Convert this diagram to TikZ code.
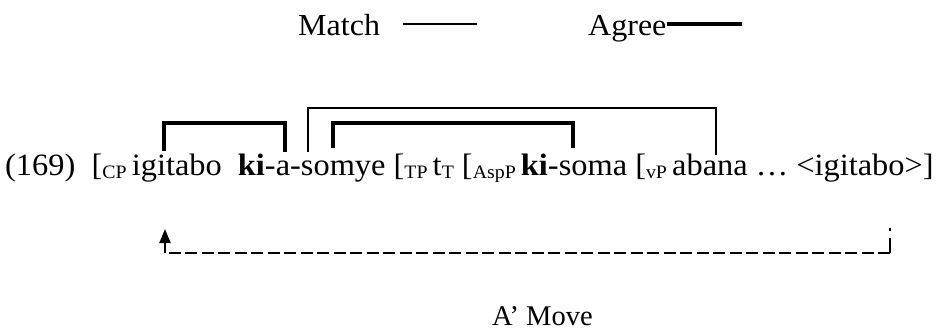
\documentclass[tikz,border=0pt]{standalone}
\usepackage{fontspec}
\setmainfont{Liberation Serif}
\newfontfamily\sentfont[FakeStretch=1.045]{Liberation Serif}
\newfontfamily\legfont[FakeStretch=1.05]{Liberation Serif}
\usetikzlibrary{arrows.meta}
\newcommand{\sbs}[1]{\raisebox{-0.25ex}{\fontsize{19}{19}\selectfont #1}}
\tikzset{
  txt/.style={inner sep=0pt, font=\sentfont\fontsize{31}{36}\selectfont},
  legtxt/.style={inner sep=0pt, font=\legfont\fontsize{30.5}{36}\selectfont},
  movetxt/.style={inner sep=0pt, font=\fontsize{28.5}{34}\selectfont},
  thinln/.style={line width=1.5pt},
  thickln/.style={line width=3.5pt},
  bthin/.style={line width=1.6pt},
  bthick/.style={line width=3.2pt},
  mv/.style={line width=2pt, dash pattern=on 12pt off 4.5pt},
  mvtick/.style={line width=2pt, dash pattern=on 3pt off 7pt on 20pt}
}
\begin{document}
\begin{tikzpicture}[x=1pt,y=-1pt]
\useasboundingbox (0,0) rectangle (950,333);
% legend
\node[legtxt, anchor=base west] (match) at (298,35) {Match};
\coordinate (m1) at (403,24);
\coordinate (m2) at (477,24);
\draw[thinln] (m1) -- (m2);
\node[legtxt, anchor=base west] (agree) at (588,35) {Agree};
\coordinate (a1) at (667,24);
\coordinate (a2) at (742,24);
\draw[thickln] (a1) -- (a2);
% sentence
\node[txt, anchor=base west] (sent) at (5,175) {(169)\ \ [\sbs{CP}\,igitabo\ \ \textbf{ki}-a-somye [\sbs{TP}\,t\sbs{T} [\sbs{AspP}\,\textbf{ki}-soma [\sbs{vP}\,abana \dots\ <igitabo>]};
% brackets
\coordinate (b1l) at (164,151);
\coordinate (b1r) at (285,152);
\draw[bthick] (b1l) -- (164,123) -- (285,123) -- (b1r);
\coordinate (b2l) at (308,152);
\coordinate (b2r) at (716,155);
\draw[bthin] (b2l) -- (308,108) -- (716,108) -- (b2r);
\coordinate (b3l) at (333,148);
\coordinate (b3r) at (573,148);
\draw[bthick] (b3l) -- (333,123) -- (573,123) -- (b3r);
% movement
\coordinate (mvs) at (890,228);
\coordinate (mvc) at (890,253);
\coordinate (mvl) at (165,253);
\coordinate (mvt) at (165,229);
\draw[mvtick] (mvs) -- (mvc);
\draw[mv] (mvc) -- (mvl);
\draw[line width=2pt, -{Triangle[length=14pt,width=11pt]}] (mvl) -- (mvt);
\node[movetxt, anchor=base west] (move) at (492,325) {A' Move};
\end{tikzpicture}
\end{document}
